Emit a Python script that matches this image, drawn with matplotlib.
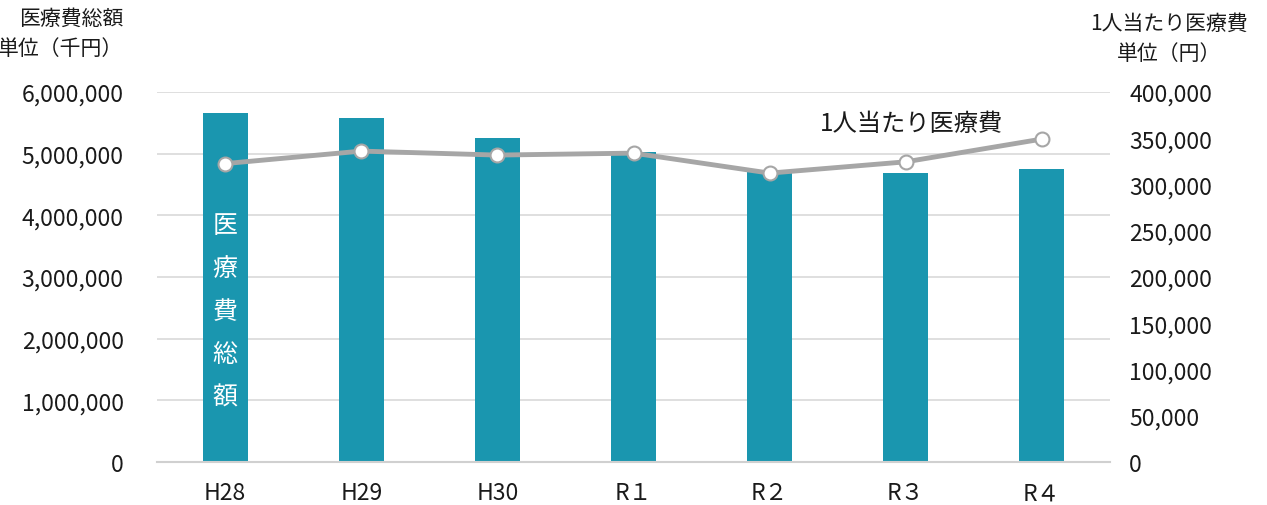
import matplotlib
matplotlib.use('Agg')
import matplotlib.pyplot as plt
from matplotlib.ticker import FuncFormatter

plt.rcParams['font.family'] = ['Noto Sans CJK JP', 'DejaVu Sans']

years = ['H28', 'H29', 'H30', 'R１', 'R２', 'R３', 'R４']
total_cost = [5660000, 5586000, 5262000, 5027000, 4720000, 4690000, 4746000]  # 千円
per_person = [322700, 336200, 331900, 334000, 312400, 324600, 349200]  # 円

bar_color = '#1a96af'
line_color = '#a6a6a6'

fig = plt.figure(figsize=(12.67, 5.06), dpi=100)
ax = fig.add_axes([0.124, 0.085, 0.752, 0.731])
ax2 = ax.twinx()

x = range(len(years))
ax.bar(x, total_cost, width=0.33, color=bar_color, zorder=2)
ax.set_ylim(0, 6000000)
ax.set_yticks(range(0, 6000001, 1000000))
ax.yaxis.set_major_formatter(FuncFormatter(lambda v, p: f'{int(v):,}'))
ax.grid(axis='y', color='#d9d9d9', linewidth=1.2, zorder=0)
ax.set_axisbelow(True)
ax.set_xlim(-0.5, len(years) - 0.5)
ax.set_xticks(list(x))
ax.set_xticklabels(years)

ax2.plot(x, per_person, color=line_color, linewidth=3.5, marker='o', markersize=10,
         markerfacecolor='white', markeredgecolor=line_color, markeredgewidth=1.5, zorder=3)
ax2.set_ylim(0, 400000)
ax2.set_yticks(range(0, 400001, 50000))
ax2.yaxis.set_major_formatter(FuncFormatter(lambda v, p: f'{int(v):,}'))

for a in (ax, ax2):
    for s in a.spines.values():
        s.set_visible(False)
ax.spines['bottom'].set_visible(True)
ax.spines['bottom'].set_color('#d0d0d0')
ax.spines['bottom'].set_linewidth(1.5)

ax.tick_params(axis='y', length=0, pad=24, labelsize=16.5, labelcolor='#1a1a1a')
ax.tick_params(axis='x', length=0, pad=14, labelsize=16.5, labelcolor='#1a1a1a')
ax2.tick_params(axis='y', length=0, pad=14, labelsize=16.5, labelcolor='#1a1a1a')

# axis titles
fig.text(0.097, 0.985, '医療費総額', ha='right', va='top', fontsize=15, color='#1a1a1a')
fig.text(0.097, 0.925, '単位（千円）', ha='right', va='top', fontsize=15, color='#1a1a1a')
fig.text(0.923, 0.975, '1人当たり医療費', ha='center', va='top', fontsize=15, color='#1a1a1a')
fig.text(0.923, 0.915, '単位（円）', ha='center', va='top', fontsize=15, color='#1a1a1a')

# series labels
ax.text(0, 2450000, '\n'.join('医療費総額'), color='white', ha='center', va='center',
        fontsize=18, linespacing=1.85, zorder=4)
ax2.text(5.04, 366500, '1人当たり医療費', ha='center', va='center', fontsize=17.5, color='#1a1a1a')

fig.savefig('out.png', dpi=100)
